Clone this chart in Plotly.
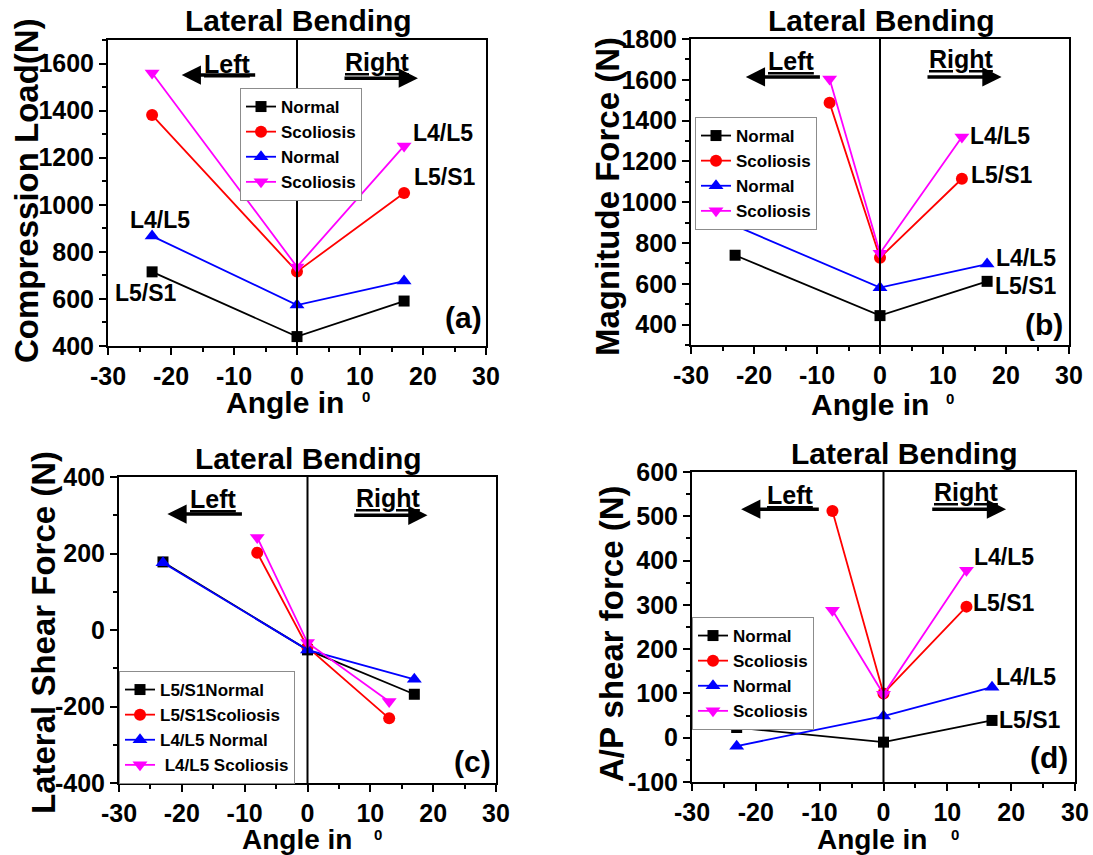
import plotly.graph_objects as go

# ---------------- data ----------------
angle_normal = [-23, 0, 17]
angle_scol_a = [-23, 0, 17]
angle_scol = [-8, 0, 13]

compression_l5s1_normal = [715, 440, 591]
compression_l5s1_scol = [1381, 716, 1050]
compression_l4l5_normal = [867, 574, 676]
compression_l4l5_scol = [1560, 736, 1250]

magnitude_l5s1_normal = [740, 444, 612]
magnitude_l5s1_scol = [1487, 728, 1115]
magnitude_l4l5_normal = [885, 581, 697]
magnitude_l4l5_scol = [1604, 750, 1320]

lateral_l5s1_normal = [178, -52, -168]
lateral_l5s1_scol = [202, -45, -231]
lateral_l4l5_normal = [176, -52, -129]
lateral_l4l5_scol = [242, -33, -187]

ap_l5s1_normal = [23, -10, 39]
ap_l5s1_scol = [512, 100, 296]
ap_l4l5_normal = [-19, 49, 114]
ap_l4l5_scol = [288, 98, 378]

legend_names_std = ["Normal", "Scoliosis", "Normal", "Scoliosis"]
legend_names_c = ["L5/S1Normal", "L5/S1Scoliosis", "L4/L5 Normal", "\u00a0L4/L5 Scoliosis"]

angle_ticks = [-30, -20, -10, 0, 10, 20, 30]
compression_ticks = [400, 600, 800, 1000, 1200, 1400, 1600]
magnitude_ticks = [400, 600, 800, 1000, 1200, 1400, 1600, 1800]
lateral_ticks = [-400, -200, 0, 200, 400]
ap_ticks = [-100, 0, 100, 200, 300, 400, 500, 600]

# ---------------- styling ----------------
W, H = 1093, 855
FONT = "Liberation Sans"
COLORS = ["#000000", "#ff0000", "#0000ff", "#ff00ff"]
SYMBOLS = ["square", "circle", "triangle-up", "triangle-down"]
SIZES = [11, 12, 13, 13]


def px_x(p):
    return p / W


def px_y(p):
    return 1 - p / H


def labels(vals):
    # plain hyphen-minus for negative tick labels
    return [str(v) for v in vals]


# plot area boxes in pixels: (left, right, top, bottom)
boxes = {
    "a": (108, 486, 40, 346),
    "b": (691, 1069, 39, 345),
    "c": (119, 496, 477, 783),
    "d": (692, 1075, 472, 782),
}

panels = [
    ("a", "x", "y", "legend",
     [(angle_normal, compression_l5s1_normal), (angle_scol_a, compression_l5s1_scol),
      (angle_normal, compression_l4l5_normal), (angle_scol_a, compression_l4l5_scol)],
     legend_names_std, [400, 1700], compression_ticks, 100),
    ("b", "x2", "y2", "legend2",
     [(angle_normal, magnitude_l5s1_normal), (angle_scol, magnitude_l5s1_scol),
      (angle_normal, magnitude_l4l5_normal), (angle_scol, magnitude_l4l5_scol)],
     legend_names_std, [300, 1800], magnitude_ticks, 100),
    ("c", "x3", "y3", "legend3",
     [(angle_normal, lateral_l5s1_normal), (angle_scol, lateral_l5s1_scol),
      (angle_normal, lateral_l4l5_normal), (angle_scol, lateral_l4l5_scol)],
     legend_names_c, [-400, 400], lateral_ticks, 100),
    ("d", "x4", "y4", "legend4",
     [(angle_normal, ap_l5s1_normal), (angle_scol, ap_l5s1_scol),
      (angle_normal, ap_l4l5_normal), (angle_scol, ap_l4l5_scol)],
     legend_names_std, [-100, 600], ap_ticks, 50),
]

fig = go.Figure()
layout = dict(
    width=W, height=H,
    margin=dict(l=0, r=0, t=0, b=0, pad=0, autoexpand=False),
    paper_bgcolor="white", plot_bgcolor="white",
    font=dict(family=FONT, color="black", weight="bold"),
    showlegend=True,
)

for key, xa, ya, leg, series, names, yrange, yticks, yminor in panels:
    for (xs, ys), name, col, sym, sz in zip(series, names, COLORS, SYMBOLS, SIZES):
        fig.add_trace(go.Scatter(
            x=xs, y=ys, name=name, mode="lines+markers",
            line=dict(color=col, width=1.8),
            marker=dict(color=col, symbol=sym, size=sz, line=dict(width=0)),
            xaxis=xa, yaxis=ya, legend=leg,
        ))
    l, r, t, b = boxes[key]
    xname = "xaxis" if xa == "x" else "xaxis" + xa[1:]
    yname = "yaxis" if ya == "y" else "yaxis" + ya[1:]
    common = dict(
        showline=True, linecolor="black", linewidth=2, mirror=True,
        ticks="outside", ticklen=7, tickwidth=2, tickcolor="black",
        showgrid=False, zeroline=False, automargin=False,
        tickfont=dict(family=FONT, size=25, color="black", weight="bold"),
        fixedrange=True,
    )
    layout[xname] = dict(
        domain=[px_x(l), px_x(r)], anchor=ya, range=[-30, 30],
        tickmode="array", tickvals=angle_ticks, ticktext=labels(angle_ticks),
        minor=dict(ticks="outside", ticklen=4, tickwidth=2, tickcolor="black",
                   tickmode="linear", tick0=0, dtick=5),
        **common,
    )
    layout[yname] = dict(
        domain=[px_y(b), px_y(t)], anchor=xa, range=yrange,
        tickmode="array", tickvals=yticks, ticktext=labels(yticks),
        minor=dict(ticks="outside", ticklen=4, tickwidth=2, tickcolor="black",
                   tickmode="linear", tick0=0, dtick=yminor),
        **common,
    )

legend_pos = {"legend": (240, 88), "legend2": (695, 117), "legend3": (119, 671), "legend4": (692, 617)}
for name, (lx, ly) in legend_pos.items():
    layout[name] = dict(
        x=px_x(lx), y=px_y(ly), xanchor="left", yanchor="top",
        bgcolor="white", bordercolor="#8c8c8c", borderwidth=1,
        font=dict(family=FONT, size=17, color="black", weight="bold"),
        itemwidth=30, tracegroupgap=0,
    )

fig.update_layout(**layout)

# vertical reference line at zero angle in every panel
for xa, ya in [("x", "y"), ("x2", "y2"), ("x3", "y3"), ("x4", "y4")]:
    fig.add_shape(type="line", xref=xa, yref=ya + " domain", x0=0, x1=0, y0=0, y1=1,
                  line=dict(color="black", width=2))

ann = []


def text(x, y, s, size, xref="paper", yref="paper", angle=0):
    ann.append(dict(x=x, y=y, xref=xref, yref=yref, text=s, showarrow=False,
                    textangle=angle, xanchor="center", yanchor="middle",
                    font=dict(family=FONT, size=size, color="black", weight="bold")))


def arrow(xref, yref, x_tail, x_head, y):
    ann.append(dict(x=x_head, y=y, ax=x_tail, ay=y, xref=xref, yref=yref,
                    axref=xref, ayref=yref, text="", showarrow=True,
                    arrowhead=2, arrowsize=1.1, arrowwidth=3.5, arrowcolor="black"))


# panel titles
for tx, ty in [(298, 21), (881, 20), (308, 458), (904, 453)]:
    text(px_x(tx), px_y(ty), "Lateral Bending", 30)

# x-axis titles with the degree-style superscript as its own label
for tx, ty, size, sx, sy in [(285, 402, 30, 366, 397), (870, 404, 30, 950, 398),
                             (297, 839, 28, 378, 834), (872, 839, 28, 955, 834)]:
    text(px_x(tx), px_y(ty), "Angle in", size)
    text(px_x(sx), px_y(sy), "0", 15)

# y-axis titles
for tx, ty, s in [(27, 191, "Compression Load(N)"), (608, 197, "Magnitude Force (N)"),
                  (43, 633, "Lateral Shear Force (N)"), (611, 634, "A/P shear force (N)")]:
    text(px_x(tx), px_y(ty), s, 33, angle=-90)

# direction markers per panel
direction = {
    ("x", "y"): dict(left=(-11.0, 1600), larr=(-6.4, -18.3, 1551),
                     right=(12.7, 1608), rarr=(7.3, 19.2, 1538)),
    ("x2", "y2"): dict(left=(-14, 1690), larr=(-9.3, -21.3, 1614),
                       right=(13, 1700), rarr=(7.3, 19.3, 1614)),
    ("x3", "y3"): dict(left=(-14.9, 342), larr=(-10.2, -22.3, 303),
                       right=(12.9, 345), rarr=(7.2, 19.1, 300)),
    ("x4", "y4"): dict(left=(-14.6, 548), larr=(-9.9, -22.3, 516),
                       right=(13, 555), rarr=(7.4, 19.2, 516)),
}
for (xa, ya), d in direction.items():
    text(d["left"][0], d["left"][1], "<u>Left</u>", 25, xa, ya)
    text(d["right"][0], d["right"][1], "<u>Right</u>", 25, xa, ya)
    arrow(xa, ya, d["larr"][0], d["larr"][1], d["larr"][2])
    arrow(xa, ya, d["rarr"][0], d["rarr"][1], d["rarr"][2])

# disc level labels
level_labels = [
    ("x", "y", -21.7, 935, "L4/L5"), ("x", "y", -23.9, 625, "L5/S1"),
    ("x", "y", 23.2, 1305, "L4/L5"), ("x", "y", 23.5, 1118, "L5/S1"),
    ("x2", "y2", 19.1, 1325, "L4/L5"), ("x2", "y2", 19.3, 1134, "L5/S1"),
    ("x2", "y2", 23.1, 727, "L4/L5"), ("x2", "y2", 23.1, 590, "L5/S1"),
    ("x4", "y4", 18.9, 408, "L4/L5"), ("x4", "y4", 18.9, 304, "L5/S1"),
    ("x4", "y4", 22.3, 137, "L4/L5"), ("x4", "y4", 22.9, 40, "L5/S1"),
]
for xa, ya, lx, ly, s in level_labels:
    text(lx, ly, s, 23, xa, ya)

for xa, ya, lx, ly, s in [("x", "y", 26.4, 519, "(a)"), ("x2", "y2", 26.1, 399, "(b)"),
                          ("x3", "y3", 26.3, -345, "(c)"), ("x4", "y4", 26.0, -44, "(d)")]:
    text(lx, ly, s, 30, xa, ya)

fig.update_layout(annotations=ann)
fig.write_html("out.html")
